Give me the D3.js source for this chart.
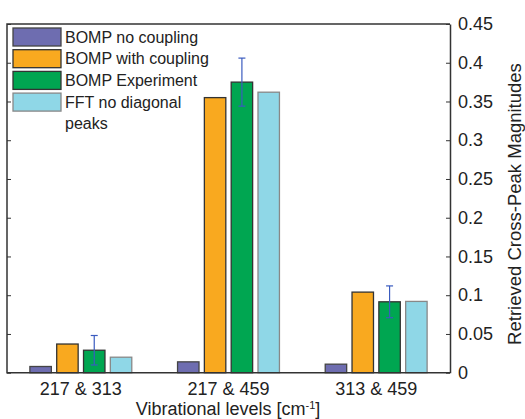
<!DOCTYPE html>
<html>
<head>
<meta charset="utf-8">
<script src="https://cdn.jsdelivr.net/npm/d3@7"></script>
<style>
  body { margin: 0; background: #fff; }
  text { font-family: Arial, "Liberation Sans", sans-serif; fill: #222; }
</style>
</head>
<body>
<svg id="chart" width="525" height="419"></svg>
<script>
var categories = ['217 & 313', '217 & 459', '313 & 459']
var seriesNames = ['BOMP no coupling', 'BOMP with coupling', 'BOMP Experiment', 'FFT no diagonal peaks']
var noCoupling = [0.008, 0.014, 0.011]
var withCoupling = [0.037, 0.355, 0.104]
var experiment = [0.029, 0.375, 0.0915]
var experimentErr = [0.019, 0.031, 0.0205]
var fftNoDiag = [0.020, 0.362, 0.092]
var yTicks = [0, 0.05, 0.1, 0.15, 0.2, 0.25, 0.3, 0.35, 0.4, 0.45]

var colors = ['#6e6db0', '#f9a91f', '#00a651', '#8fd7e7']
var strokes = ['#444', '#333', '#333', '#888']
var seriesValues = [noCoupling, withCoupling, experiment, fftNoDiag]

var plotLeft = 7, plotRight = 450, plotTop = 24, plotBottom = 372.7
var svg = d3.select('#chart')

var x0 = d3.scaleBand().domain(categories).range([plotLeft, plotRight])
    .paddingInner(0.31).paddingOuter(0.155)
var x1 = d3.scaleBand().domain(d3.range(seriesNames.length))
    .range([0, x0.bandwidth()]).paddingInner(0.2).paddingOuter(0)
var y = d3.scaleLinear().domain([0, 0.45]).range([plotBottom, plotTop])

// bars
var groups = svg.selectAll('g.group')
    .data(categories)
    .enter().append('g')
    .attr('class', 'group')
    .attr('transform', d => 'translate(' + x0(d) + ',0)')

groups.selectAll('rect')
    .data((c, i) => seriesValues.map((vals, s) => ({ s: s, v: vals[i] })))
    .enter().append('rect')
    .attr('x', d => x1(d.s))
    .attr('y', d => y(d.v))
    .attr('width', x1.bandwidth())
    .attr('height', d => plotBottom - y(d.v))
    .style('fill', d => colors[d.s])
    .style('stroke', d => strokes[d.s])
    .style('stroke-width', 1.3)

// error bars on the experiment series
var errColor = '#3a5bbf'
categories.forEach(function (c, i) {
    var cx = x0(c) + x1(2) + x1.bandwidth() / 2
    var lo = y(experiment[i] - experimentErr[i]), hi = y(experiment[i] + experimentErr[i])
    var g = svg.append('g').style('stroke', errColor).style('stroke-width', 1.2)
    g.append('line').attr('x1', cx).attr('x2', cx).attr('y1', lo).attr('y2', hi)
    g.append('line').attr('x1', cx - 3.5).attr('x2', cx + 3.5).attr('y1', lo).attr('y2', lo)
    g.append('line').attr('x1', cx - 3.5).attr('x2', cx + 3.5).attr('y1', hi).attr('y2', hi)
})

// frame
svg.append('path')
    .attr('d', 'M' + plotRight + ',' + plotTop + 'H' + plotLeft + 'V' + plotBottom + 'H' + plotRight)
    .style('fill', 'none').style('stroke', '#333').style('stroke-width', 1.5)

var yAxisR = d3.axisRight(y).tickValues(yTicks).tickSizeInner(-4).tickSizeOuter(0)
    .tickPadding(8).tickFormat(d => String(+d.toFixed(2)))
var gR = svg.append('g').attr('transform', 'translate(' + plotRight + ',0)').call(yAxisR)
gR.select('.domain').style('stroke', '#333').style('stroke-width', 1.5)
gR.selectAll('.tick line').style('stroke', '#333')
gR.selectAll('.tick text').style('font-size', '18px').style('fill', '#222')
    .style('font-family', 'Arial, "Liberation Sans", sans-serif')

var yAxisL = d3.axisLeft(y).tickValues(yTicks).tickSizeInner(-4).tickSizeOuter(0).tickFormat('')
var gL = svg.append('g').attr('transform', 'translate(' + plotLeft + ',0)').call(yAxisL)
gL.select('.domain').remove()
gL.selectAll('.tick line').style('stroke', '#333')

var xAxis = d3.axisBottom(x0).tickSize(0).tickPadding(10)
var gX = svg.append('g').attr('transform', 'translate(0,' + plotBottom + ')').call(xAxis)
gX.select('.domain').remove()
gX.selectAll('.tick text').style('font-size', '18px').style('fill', '#222')
    .style('font-family', 'Arial, "Liberation Sans", sans-serif')

// axis titles
var xt = svg.append('text').attr('x', 228).attr('y', 415).attr('text-anchor', 'middle')
    .style('font-size', '18px')
xt.append('tspan').text('Vibrational levels [cm')
xt.append('tspan').text('-1').attr('dy', -6).style('font-size', '11px')
xt.append('tspan').text(']').attr('dy', 6)

svg.append('text')
    .attr('transform', 'translate(521,204) rotate(-90)')
    .attr('text-anchor', 'middle')
    .style('font-size', '18.5px')
    .text('Retrieved Cross-Peak Magnitudes')

// legend
var legendLabels = [['BOMP no coupling'], ['BOMP with coupling'], ['BOMP Experiment'], ['FFT no diagonal', 'peaks']]
var leg = svg.selectAll('g.legend')
    .data(legendLabels)
    .enter().append('g')
    .attr('class', 'legend')
    .attr('transform', (d, i) => 'translate(13,' + (28 + i * 21.7) + ')')
leg.append('rect')
    .attr('width', 48).attr('height', 18)
    .style('fill', (d, i) => colors[i])
    .style('stroke', (d, i) => strokes[i])
    .style('stroke-width', 1.3)
leg.each(function (lines) {
    var t = d3.select(this).append('text').attr('x', 52).attr('y', 14.5).style('font-size', '16px')
    lines.forEach((l, j) => t.append('tspan').attr('x', 52).attr('dy', j ? 21.5 : 0).text(l))
})
</script>
</body>
</html>
